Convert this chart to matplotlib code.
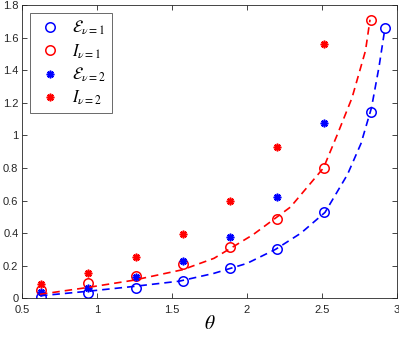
import numpy as np
import matplotlib
matplotlib.use("Agg")
import matplotlib.pyplot as plt

plt.rcParams['font.family'] = ['Liberation Sans', 'DejaVu Sans']
plt.rcParams['mathtext.fontset'] = 'stix'

# sample angles (theta)
theta8 = [0.628, 0.942, 1.257, 1.571, 1.885, 2.199, 2.513, 2.827]
theta9 = theta8 + [2.92]
theta7 = theta8[:7]

# nu = 1 (circles)
E_nu1 = [0.010, 0.030, 0.061, 0.107, 0.183, 0.302, 0.527, 1.144, 1.658]
I_nu1 = [0.050, 0.091, 0.138, 0.208, 0.313, 0.484, 0.800, 1.707]

# nu = 2 (asterisks)
E_nu2 = [0.036, 0.064, 0.128, 0.228, 0.378, 0.623, 1.077]
I_nu2 = [0.085, 0.156, 0.255, 0.397, 0.600, 0.930, 1.560]

# dashed fit curves
fitI_t = [0.62, 0.93, 1.24, 1.57, 1.78, 2.04, 2.29, 2.40, 2.51, 2.60, 2.70, 2.79, 2.82]
fitI_y = [0.024, 0.065, 0.110, 0.175, 0.245, 0.390, 0.560, 0.680, 0.800, 1.000, 1.230, 1.520, 1.710]
fitE_t = [0.62, 0.93, 1.24, 1.55, 1.78, 2.00, 2.19, 2.36, 2.52, 2.67, 2.76, 2.83, 2.88, 2.92]
fitE_y = [0.015, 0.042, 0.072, 0.105, 0.153, 0.214, 0.300, 0.400, 0.527, 0.760, 0.950, 1.170, 1.420, 1.660]

fig = plt.figure(figsize=(3.99, 3.37), dpi=100)
ax = fig.add_axes([0.055, 0.115, 0.94, 0.870])

ax.plot(theta9, E_nu1, 'o', color='b', mfc='none', ms=6.8, mew=1.1,
        label=r'$\mathcal{E}_{\nu=1}$')
ax.plot(theta8, I_nu1, 'o', color='r', mfc='none', ms=6.8, mew=1.1,
        label=r'$I_{\nu=1}$')
ax.plot(theta7, E_nu2, ls='none', marker=(8, 2, 0), color='b', ms=5.5, mew=1.2,
        label=r'$\mathcal{E}_{\nu=2}$')
ax.plot(theta7, I_nu2, ls='none', marker=(8, 2, 0), color='r', ms=5.5, mew=1.2,
        label=r'$I_{\nu=2}$')
ax.plot(fitI_t, fitI_y, '--', color='r', lw=1.2, dashes=(4.5, 3))
ax.plot(fitE_t, fitE_y, '--', color='b', lw=1.2, dashes=(4.5, 3))

ax.set_xlim(0.5, 3)
ax.set_ylim(0, 1.8)
ax.set_xticks([0.5, 1, 1.5, 2, 2.5, 3])
ax.set_xticklabels(['0.5', '1', '1.5', '2', '2.5', '3'])
ax.set_yticks(np.arange(0, 1.81, 0.2))
ax.set_yticklabels(['0', '0.2', '0.4', '0.6', '0.8', '1', '1.2', '1.4', '1.6', '1.8'])
ax.tick_params(direction='in', length=3.5, width=0.6, top=True, right=True,
               labelsize=8, colors='0.15')
ax.tick_params(axis='x', pad=5)
ax.tick_params(axis='y', pad=2.5)
for s in ax.spines.values():
    s.set_color('0.15')
    s.set_linewidth(0.6)
ax.set_xlabel(r'$\theta$', fontsize=14, labelpad=0)

leg = ax.legend(loc='upper left', bbox_to_anchor=(0.021, 0.973), fontsize=12,
                frameon=True, fancybox=False, edgecolor='0.15',
                borderaxespad=0, handletextpad=0.5, borderpad=0.35,
                labelspacing=0.3, handlelength=1.7)
leg.get_frame().set_linewidth(0.6)

fig.savefig('out.png', dpi=100)
